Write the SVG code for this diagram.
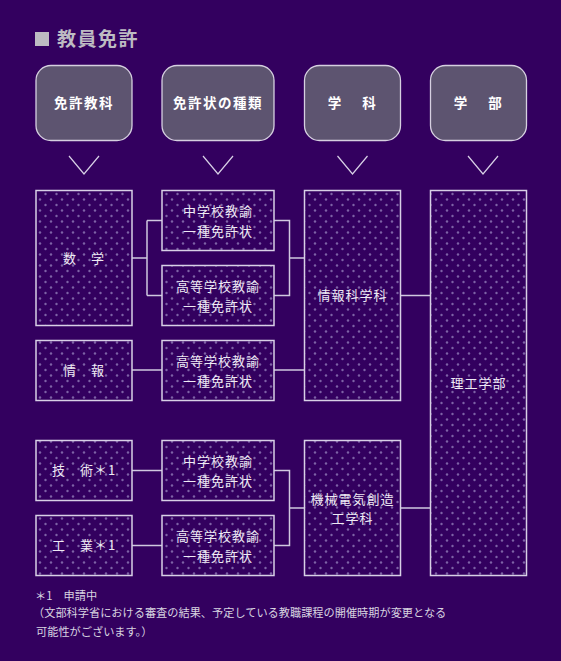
<svg xmlns="http://www.w3.org/2000/svg" width="561" height="661" viewBox="0 0 561 661">
<defs>
<pattern id="dots" patternUnits="userSpaceOnUse" width="11" height="11">
<circle cx="1.5" cy="7" r="1.2" fill="#7e62a6"/>
<circle cx="7" cy="1.5" r="1.2" fill="#7e62a6"/>
</pattern>
<style>
.hd rect{fill:#5d5470;stroke:#d6d0e0;stroke-width:1.3}
.hd text{font-family:"Noto Sans CJK JP","Noto Sans",sans-serif;font-size:13.5px;font-weight:bold;fill:#ffffff;text-anchor:middle;letter-spacing:1.5px}
.bx rect{fill:#33005f;stroke:none}
.bx rect.p{fill:url(#dots);stroke:#d8d0e6;stroke-width:1.5}
.bx text{font-family:"Noto Sans CJK JP","Noto Sans",sans-serif;font-size:13px;fill:#eeeaf4;text-anchor:middle;letter-spacing:1px}
.chev{fill:none;stroke:#d8d0e6;stroke-width:1.2}
.con{fill:none;stroke:#d0c8e0;stroke-width:1.5}
.note{font-family:"Noto Sans CJK JP","Noto Sans",sans-serif;font-size:11.2px;fill:#d8d4e0}
</style>
</defs>
<rect width="561" height="661" fill="#33005f"/>
<g id="title">
<rect x="35" y="32" width="14" height="14" fill="#bdbbc2"/>
<text x="57" y="46" font-family="'Noto Sans CJK JP','Noto Sans',sans-serif" font-size="19" font-weight="bold" fill="#bdbbc2" letter-spacing="1.5">教員免許</text>
</g>
<g id="h1" class="hd"><rect x="36" y="65.5" width="96" height="75" rx="15"/><text x="84" y="108">免許教科</text></g>
<g id="h2" class="hd"><rect x="162" y="65.5" width="112" height="75" rx="15"/><text x="218" y="108">免許状の種類</text></g>
<g id="h3" class="hd"><rect x="304.5" y="65.5" width="96" height="75" rx="15"/><text x="352.5" y="108" xml:space="preserve">学　 科</text></g>
<g id="h4" class="hd"><rect x="430.5" y="65.5" width="96" height="75" rx="15"/><text x="478.5" y="108" xml:space="preserve">学　 部</text></g>
<g id="chevrons">
<path class="chev" d="M69 156 L84 174 L99 156"/>
<path class="chev" d="M203 156 L218 174 L233 156"/>
<path class="chev" d="M337.5 156 L352.5 174 L367.5 156"/>
<path class="chev" d="M468 156 L483 174 L498 156"/>
</g>
<g id="connectors">
<path class="con" d="M132 258 H147 M147 220.5 V295.5 M147 220.5 H162 M147 295.5 H162"/>
<path class="con" d="M274 220.5 H289.5 V295.5 H274 M289.5 258 H304.5"/>
<path class="con" d="M132 370 H162 M274 370 H304.5"/>
<path class="con" d="M400.5 295.5 H430.5"/>
<path class="con" d="M132 470.5 H162 M132 545.5 H162"/>
<path class="con" d="M274 470.5 H289.5 V545.5 H274 M289.5 508 H304.5"/>
<path class="con" d="M400.5 508 H430.5"/>
</g>
<g id="math" class="bx"><rect x="36" y="190.5" width="96" height="135"/><rect class="p" x="36" y="190.5" width="96" height="135"/><text x="84" y="263" xml:space="preserve">数　学</text></g>
<g id="jh1" class="bx"><rect x="162" y="190.5" width="112" height="60"/><rect class="p" x="162" y="190.5" width="112" height="60"/><text x="218" y="216">中学校教諭</text><text x="218" y="236">一種免許状</text></g>
<g id="hs1" class="bx"><rect x="162" y="265.5" width="112" height="60"/><rect class="p" x="162" y="265.5" width="112" height="60"/><text x="218" y="291">高等学校教諭</text><text x="218" y="311">一種免許状</text></g>
<g id="info" class="bx"><rect x="36" y="340.5" width="96" height="60"/><rect class="p" x="36" y="340.5" width="96" height="60"/><text x="84" y="375" xml:space="preserve">情　報</text></g>
<g id="hs2" class="bx"><rect x="162" y="340.5" width="112" height="60"/><rect class="p" x="162" y="340.5" width="112" height="60"/><text x="218" y="366">高等学校教諭</text><text x="218" y="386">一種免許状</text></g>
<g id="tech" class="bx"><rect x="36" y="440.5" width="96" height="60"/><rect class="p" x="36" y="440.5" width="96" height="60"/><text x="84" y="475" xml:space="preserve">技　術＊1</text></g>
<g id="ind" class="bx"><rect x="36" y="515.5" width="96" height="60"/><rect class="p" x="36" y="515.5" width="96" height="60"/><text x="84" y="550" xml:space="preserve">工　業＊1</text></g>
<g id="jh2" class="bx"><rect x="162" y="440.5" width="112" height="60"/><rect class="p" x="162" y="440.5" width="112" height="60"/><text x="218" y="466">中学校教諭</text><text x="218" y="486">一種免許状</text></g>
<g id="hs3" class="bx"><rect x="162" y="515.5" width="112" height="60"/><rect class="p" x="162" y="515.5" width="112" height="60"/><text x="218" y="541">高等学校教諭</text><text x="218" y="561">一種免許状</text></g>
<g id="infosci" class="bx"><rect x="304.5" y="190.5" width="96" height="210"/><rect class="p" x="304.5" y="190.5" width="96" height="210"/><text x="352.5" y="300">情報科学科</text></g>
<g id="mech" class="bx"><rect x="304.5" y="440.5" width="96" height="135"/><rect class="p" x="304.5" y="440.5" width="96" height="135"/><text x="352.5" y="503.5">機械電気創造</text><text x="352.5" y="523">工学科</text></g>
<g id="faculty" class="bx"><rect x="430.5" y="190.5" width="96" height="385"/><rect class="p" x="430.5" y="190.5" width="96" height="385"/><text x="478.5" y="388">理工学部</text></g>
<g id="notes">
<text class="note" x="35" y="600" xml:space="preserve">＊1　申請中</text>
<text class="note" x="33" y="617">（文部科学省における審査の結果、予定している教職課程の開催時期が変更となる</text>
<text class="note" x="36" y="636">可能性がございます。）</text>
</g>
</svg>
